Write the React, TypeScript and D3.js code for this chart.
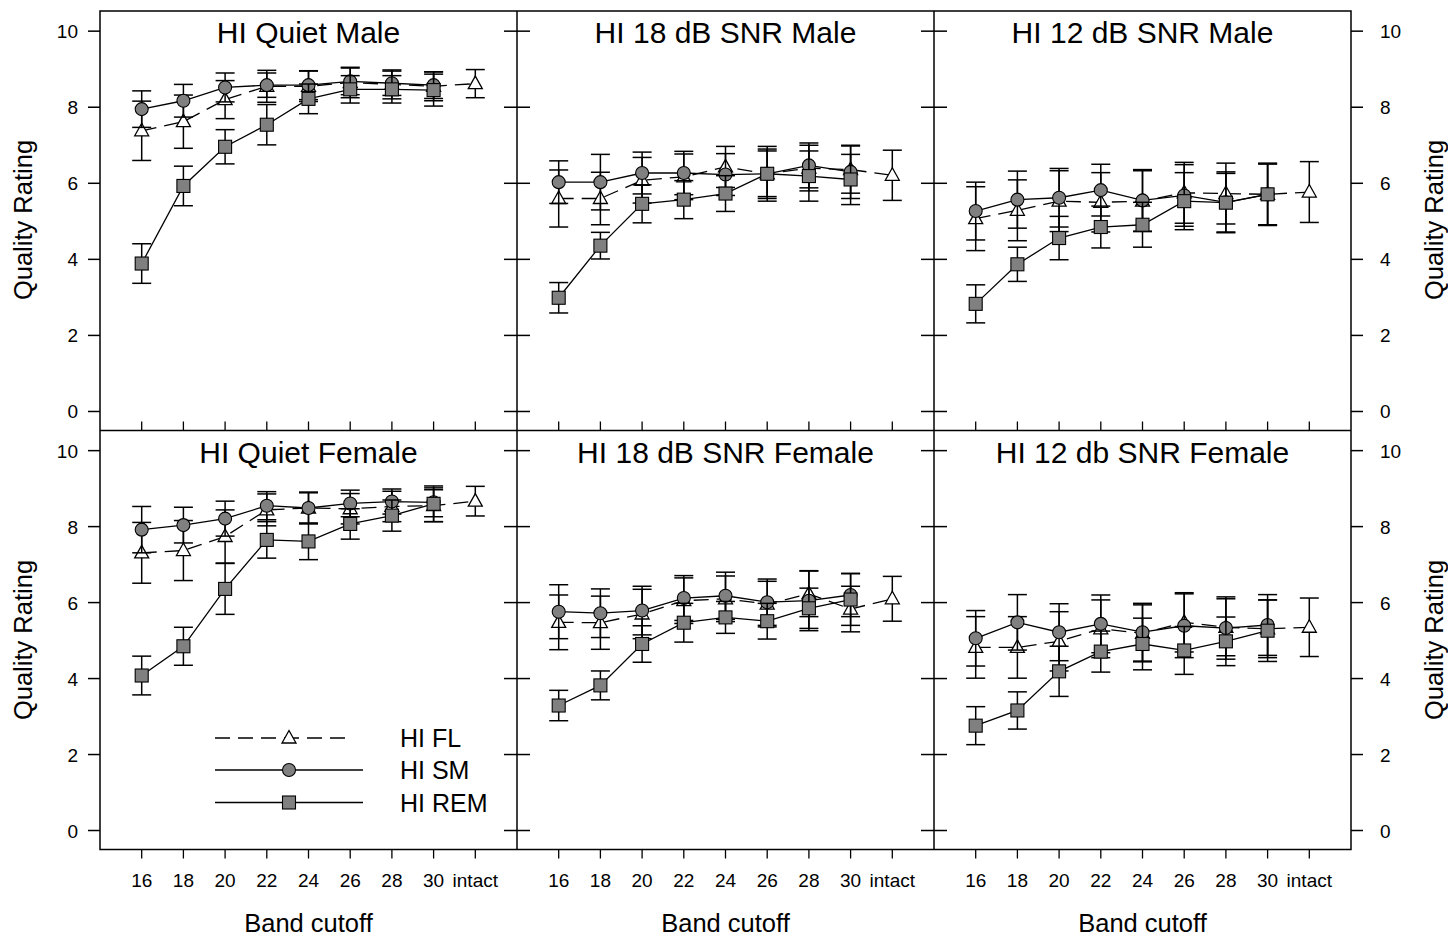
import React from "react";
import * as d3 from "d3";

// band cutoff categories (x axis)
const categories = ["16", "18", "20", "22", "24", "26", "28", "30", "intact"];
const yTicks = [0, 2, 4, 6, 8, 10];

// panel order: top row left->right, bottom row left->right
const panelTitles = [
  "HI Quiet Male",
  "HI 18 dB SNR Male",
  "HI 12 dB SNR Male",
  "HI Quiet Female",
  "HI 18 dB SNR Female",
  "HI 12 db SNR Female",
];

// HI FL (open triangles, dashed) - includes intact
const flMeans = [
  [7.38, 7.62, 8.2, 8.55, 8.55, 8.65, 8.6, 8.55, 8.62],
  [5.6, 5.6, 6.08, 6.17, 6.43, 6.25, 6.4, 6.36, 6.21],
  [5.07, 5.29, 5.53, 5.5, 5.53, 5.75, 5.73, 5.71, 5.77],
  [7.31, 7.37, 7.74, 8.44, 8.49, 8.47, 8.53, 8.55, 8.67],
  [5.48, 5.47, 5.7, 6.05, 6.1, 5.96, 6.23, 5.83, 6.1],
  [4.82, 4.82, 4.98, 5.31, 5.19, 5.48, 5.35, 5.31, 5.35],
];
const flErrs = [
  [0.78, 0.7, 0.5, 0.42, 0.4, 0.4, 0.38, 0.38, 0.37],
  [0.75, 0.69, 0.6, 0.6, 0.54, 0.65, 0.6, 0.62, 0.66],
  [0.84, 0.8, 0.8, 0.78, 0.8, 0.8, 0.8, 0.8, 0.8],
  [0.8, 0.79, 0.7, 0.42, 0.4, 0.4, 0.4, 0.42, 0.39],
  [0.72, 0.7, 0.65, 0.6, 0.6, 0.6, 0.6, 0.6, 0.59],
  [0.81, 0.81, 0.78, 0.76, 0.75, 0.78, 0.75, 0.76, 0.77],
];

// HI SM (grey circles)
const smMeans = [
  [7.95, 8.17, 8.52, 8.58, 8.58, 8.68, 8.63, 8.58],
  [6.03, 6.03, 6.27, 6.27, 6.23, 6.25, 6.47, 6.3],
  [5.27, 5.57, 5.62, 5.82, 5.55, 5.68, 5.5, 5.71],
  [7.92, 8.04, 8.21, 8.55, 8.49, 8.61, 8.66, 8.64],
  [5.76, 5.72, 5.79, 6.12, 6.18, 6.01, 6.05, 6.2],
  [5.06, 5.48, 5.22, 5.44, 5.22, 5.39, 5.33, 5.41],
];
const smErrs = [
  [0.48, 0.43, 0.38, 0.32, 0.38, 0.35, 0.32, 0.35],
  [0.56, 0.73, 0.55, 0.57, 0.55, 0.6, 0.59, 0.7],
  [0.76, 0.75, 0.77, 0.68, 0.81, 0.81, 0.8, 0.8],
  [0.61, 0.47, 0.46, 0.37, 0.42, 0.35, 0.33, 0.38],
  [0.71, 0.64, 0.64, 0.59, 0.62, 0.61, 0.79, 0.57],
  [0.73, 0.73, 0.75, 0.76, 0.76, 0.84, 0.82, 0.8],
];

// HI REM (grey squares)
const remMeans = [
  [3.89, 5.93, 6.96, 7.54, 8.22, 8.47, 8.47, 8.45],
  [2.99, 4.36, 5.46, 5.57, 5.73, 6.25, 6.19, 6.1],
  [2.83, 3.87, 4.56, 4.85, 4.91, 5.53, 5.49, 5.71],
  [4.08, 4.85, 6.36, 7.65, 7.61, 8.07, 8.29, 8.6],
  [3.29, 3.82, 4.91, 5.47, 5.61, 5.51, 5.85, 6.08],
  [2.76, 3.16, 4.19, 4.71, 4.91, 4.74, 4.98, 5.26],
];
const remErrs = [
  [0.52, 0.52, 0.45, 0.53, 0.39, 0.36, 0.36, 0.42],
  [0.4, 0.35, 0.5, 0.5, 0.47, 0.72, 0.66, 0.66],
  [0.5, 0.45, 0.57, 0.55, 0.59, 0.75, 0.77, 0.82],
  [0.51, 0.5, 0.67, 0.48, 0.48, 0.4, 0.41, 0.47],
  [0.4, 0.38, 0.48, 0.51, 0.42, 0.47, 0.53, 0.68],
  [0.5, 0.49, 0.66, 0.54, 0.68, 0.63, 0.64, 0.81],
];

const legendItems = ["HI FL", "HI SM", "HI REM"];

const W = 1448;
const H = 937;
const left = 100;
const right = 1351;
const top = 11;
const mid = 430.5;
const bottom = 849.5;
const panelW = (right - left) / 3;
const font = "'Liberation Sans', Arial, sans-serif";
const grey = "#808080";
const dash = "15,8";

const triPath = "M0,-7.5L7,5L-7,5Z";

function Marker({ kind, x, y }: { kind: string; x: number; y: number }) {
  if (kind === "tri")
    return <path d={triPath} transform={`translate(${x},${y})`} fill="#fff" stroke="#000" strokeWidth={1.3} />;
  if (kind === "circle")
    return <circle cx={x} cy={y} r={6.5} fill={grey} stroke="#000" strokeWidth={1.1} />;
  return <rect x={x - 6.5} y={y - 6.5} width={13} height={13} fill={grey} stroke="#000" strokeWidth={1.1} />;
}

function Series({ means, errs, kind, dashed, x, y }: any) {
  const pts = means.map((m: number, i: number) => [x(i), y(m)] as [number, number]);
  const line = d3.line();
  return (
    <g>
      {means.map((m: number, i: number) => {
        const xi = x(i);
        const y1 = y(m + errs[i]);
        const y2 = y(m - errs[i]);
        return (
          <g key={i} stroke="#000" strokeWidth={1.5}>
            <line x1={xi} x2={xi} y1={y1} y2={y2} />
            <line x1={xi - 9.5} x2={xi + 9.5} y1={y1} y2={y1} />
            <line x1={xi - 9.5} x2={xi + 9.5} y1={y2} y2={y2} />
          </g>
        );
      })}
      <path d={line(pts) || ""} fill="none" stroke="#000" strokeWidth={1.3} strokeDasharray={dashed ? dash : undefined} />
      {pts.map((p: [number, number], i: number) => (
        <Marker key={i} kind={kind} x={p[0]} y={p[1]} />
      ))}
    </g>
  );
}

function Panel({ idx }: { idx: number }) {
  const col = idx % 3;
  const row = Math.floor(idx / 3);
  const x0 = left + col * panelW;
  const y0 = row === 0 ? top : mid;
  const y1 = row === 0 ? mid : bottom;
  const x = d3.scaleLinear().domain([-1, 9]).range([x0, x0 + panelW]);
  const y = d3.scaleLinear().domain([-0.5, 10.53]).range([y1, y0]);
  return (
    <g>
      <text x={x0 + panelW / 2} y={y0 + 32} textAnchor="middle" fontSize={30} fontFamily={font}>
        {panelTitles[idx]}
      </text>
      <Series means={flMeans[idx]} errs={flErrs[idx]} kind="tri" dashed x={x} y={y} />
      <Series means={smMeans[idx]} errs={smErrs[idx]} kind="circle" x={x} y={y} />
      <Series means={remMeans[idx]} errs={remErrs[idx]} kind="square" x={x} y={y} />
      {/* y ticks */}
      {yTicks.map((t) => {
        const yy = y(t);
        const lo = col === 0 ? x0 - 12 : x0 - 13;
        const hi = col === 0 ? x0 : x0 + 13;
        return (
          <g key={t} stroke="#000" strokeWidth={1.5}>
            <line x1={lo} x2={hi} y1={yy} y2={yy} />
            {col === 2 && <line x1={x0 + panelW} x2={x0 + panelW + 12} y1={yy} y2={yy} />}
          </g>
        );
      })}
      {col === 0 &&
        yTicks.map((t) => (
          <text key={t} x={78} y={y(t) + 7} textAnchor="end" fontSize={19} fontFamily={font}>
            {t}
          </text>
        ))}
      {col === 2 &&
        yTicks.map((t) => (
          <text key={t} x={1380} y={y(t) + 7} fontSize={19} fontFamily={font}>
            {t}
          </text>
        ))}
      {/* x ticks */}
      {categories.map((c, i) => (
        <line
          key={c}
          x1={x(i)}
          x2={x(i)}
          y1={row === 0 ? mid : bottom}
          y2={row === 0 ? mid - 9 : bottom + 9}
          stroke="#000"
          strokeWidth={1.3}
        />
      ))}
      {row === 1 &&
        categories.map((c, i) => (
          <text key={c} x={x(i)} y={887} textAnchor="middle" fontSize={19} fontFamily={font}>
            {c}
          </text>
        ))}
      {row === 1 && (
        <text x={x0 + panelW / 2} y={932} textAnchor="middle" fontSize={25.5} fontFamily={font}>
          Band cutoff
        </text>
      )}
    </g>
  );
}

function Legend() {
  const ys = [738, 770, 802.5];
  const kinds = ["tri", "circle", "square"];
  return (
    <g>
      {legendItems.map((name, i) => (
        <g key={name}>
          <line
            x1={215}
            x2={i === 0 ? 349 : 363}
            y1={ys[i]}
            y2={ys[i]}
            stroke="#000"
            strokeWidth={1.3}
            strokeDasharray={i === 0 ? dash : undefined}
          />
          <Marker kind={kinds[i]} x={289} y={ys[i]} />
          <text x={400} y={ys[i] + 9} fontSize={25} fontFamily={font}>
            {name}
          </text>
        </g>
      ))}
    </g>
  );
}

export default function App() {
  const panels = d3.range(6);
  return (
    <svg width={W} height={H} style={{ position: "absolute", left: 0, top: 0, background: "#fff" }}>
      <rect x={0} y={0} width={W} height={H} fill="#fff" />
      {panels.map((i) => (
        <Panel key={i} idx={i} />
      ))}
      <Legend />
      {/* frame and dividers */}
      <g stroke="#000" strokeWidth={1.5} fill="none">
        <rect x={left} y={top} width={right - left} height={bottom - top} />
        <line x1={left} x2={right} y1={mid} y2={mid} />
        <line x1={left + panelW} x2={left + panelW} y1={top} y2={bottom} />
        <line x1={left + 2 * panelW} x2={left + 2 * panelW} y1={top} y2={bottom} />
      </g>
      {[220, 640].map((cy) => (
        <g key={cy}>
          <text transform={`translate(32,${cy}) rotate(-90)`} textAnchor="middle" fontSize={25.5} fontFamily={font}>
            Quality Rating
          </text>
          <text transform={`translate(1443,${cy}) rotate(-90)`} textAnchor="middle" fontSize={25.5} fontFamily={font}>
            Quality Rating
          </text>
        </g>
      ))}
    </svg>
  );
}
